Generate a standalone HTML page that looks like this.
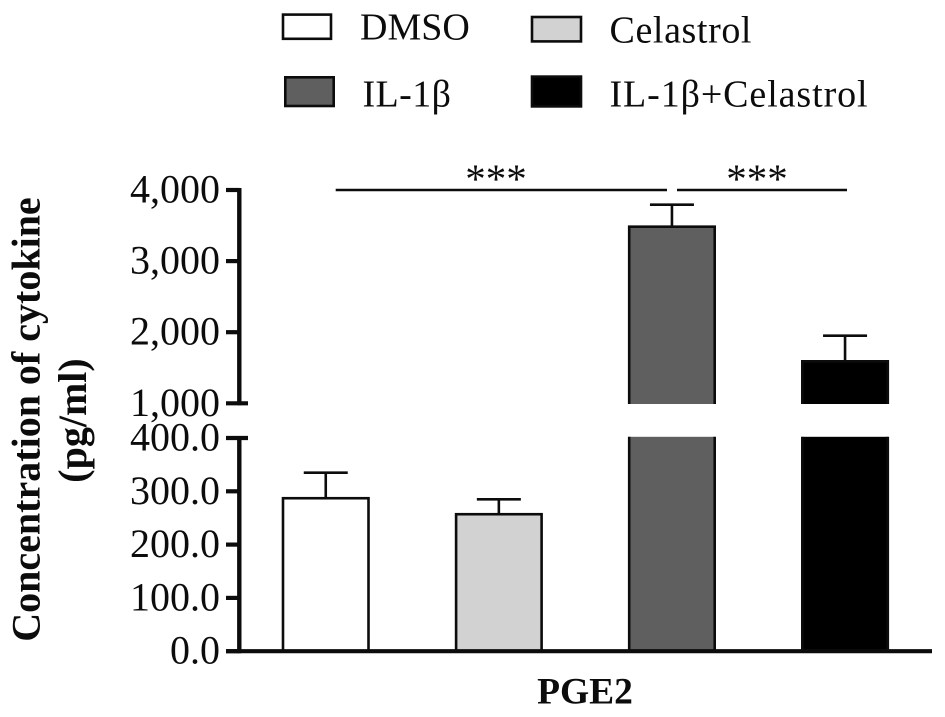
<!DOCTYPE html>
<html>
<head>
<meta charset="utf-8">
<style>
html,body{margin:0;padding:0;background:#fff;}
svg{display:block;}
text{font-family:"Liberation Serif","DejaVu Serif",serif;fill:#0c0c0c;}
</style>
</head>
<body>
<svg id="chart" width="945" height="717" viewBox="0 0 945 717" xmlns="http://www.w3.org/2000/svg">
<g id="legend"></g>
<g id="bars"></g>
<g id="axes"></g>
<g id="sig"></g>
<text transform="translate(39.5,419.5) rotate(-90)" text-anchor="middle" font-size="40" font-weight="bold">Concentration of cytokine</text>
<text transform="translate(86,420.5) rotate(-90)" text-anchor="middle" font-size="40" font-weight="bold">(pg/ml)</text>
<text x="585" y="703.5" text-anchor="middle" font-size="37.5" font-weight="bold">PGE2</text>
</svg>
<script>
const categories = ['DMSO', 'Celastrol', 'IL-1β', 'IL-1β+Celastrol'];
const means = [287, 257, 3484, 1590];
const errorTops = [335, 285, 3793, 1951];
const fills = ['#ffffff', '#d2d2d2', '#5f5f5f', '#000000'];
const lowerTicks = [0, 100, 200, 300, 400];
const upperTicks = [1000, 2000, 3000, 4000];
const lowerLabels = ['0.0', '100.0', '200.0', '300.0', '400.0'];
const upperLabels = ['1,000', '2,000', '3,000', '4,000'];

const NS = 'http://www.w3.org/2000/svg';
const axisX = 239.3;
const tickLeft = 226;
const breakTickRight = 248;
const ink = '#0c0c0c';
function make(tag, attrs, parent, text) {
  const el = document.createElementNS(NS, tag);
  for (const k in attrs) el.setAttribute(k, attrs[k]);
  if (text !== undefined) el.textContent = text;
  parent.appendChild(el);
  return el;
}
function yLower(v) { return 651.2 - (v / 400) * 213.2; }
function yUpper(v) { return 403.3 - ((v - 1000) / 3000) * 213.3; }
function yVal(v) { return v <= 400 ? yLower(v) : yUpper(Math.max(v, 1000)); }
function barX(i) { return 283 + i * 173.1; }
const barW = 85.5;

const barsG = document.getElementById('bars');
categories.forEach(function (c, i) {
  const x = barX(i), cx = x + barW / 2;
  const top = yVal(means[i]);
  const errTop = yVal(errorTops[i]);
  const errLine = make('line', { x1: cx, x2: cx, y1: top, y2: errTop, stroke: ink, 'stroke-width': 2.6 }, barsG);
  
  
  const cap = make('line', { x1: cx - 22, x2: cx + 22, y1: errTop, y2: errTop, stroke: ink, 'stroke-width': 2.6 }, barsG);
  
  
  if (means[i] <= 400) {
    const r = make('rect', { x: x, y: top, width: barW, height: yLower(0) - top, fill: fills[i], stroke: ink, 'stroke-width': 2.6 }, barsG);
    
    
  } else {
    const upperEnd = yUpper(1000) + 0.7;
    const lowerStart = yLower(400) - 1.2;
    const r1 = make('rect', { x: x, y: top, width: barW, height: upperEnd - top, fill: fills[i] }, barsG);
    
    
    const o = make('path', { d: 'M' + x + ' ' + upperEnd + 'V' + top + 'H' + (x + barW) + 'V' + upperEnd, fill: 'none', stroke: ink, 'stroke-width': 2.6 }, barsG);
    
    
    const r2 = make('rect', { x: x, y: lowerStart, width: barW, height: yLower(0) - lowerStart, fill: fills[i] }, barsG);
    
    
    const o2 = make('path', { d: 'M' + x + ' ' + lowerStart + 'V' + yLower(0) + 'H' + (x + barW) + 'V' + lowerStart, fill: 'none', stroke: ink, 'stroke-width': 2.6 }, barsG);
    
    
  }
});

const axes = document.getElementById('axes');
const lowerLine = make('line', { x1: axisX, x2: axisX, y1: yLower(400) - 2, y2: yLower(0) + 2, stroke: ink, 'stroke-width': 4.4 }, axes);


const upperLine = make('line', { x1: axisX, x2: axisX, y1: yUpper(4000) - 2, y2: yUpper(1000) + 2, stroke: ink, 'stroke-width': 4.4 }, axes);


const baseLine = make('line', { x1: tickLeft, x2: 932, y1: yLower(0), y2: yLower(0), stroke: ink, 'stroke-width': 4.2 }, axes);



lowerTicks.forEach(function (v, i) {
  const y = yLower(v);
  const isBreak = i === lowerTicks.length - 1;
  const t = make('line', { x1: tickLeft, x2: isBreak ? breakTickRight : axisX, y1: y, y2: y, stroke: ink, 'stroke-width': 4.2 }, axes);
  
  
  const l = make('text', { x: 220, y: y + 12.5, 'text-anchor': 'end', 'font-size': 40 }, axes, lowerLabels[i]);
  
  
});
upperTicks.forEach(function (v, i) {
  const y = yUpper(v);
  const isBreak = i === 0;
  const t = make('line', { x1: tickLeft, x2: isBreak ? breakTickRight : axisX, y1: y, y2: y, stroke: ink, 'stroke-width': 4.2 }, axes);
  
  
  const l = make('text', { x: 220, y: y + 12.5, 'text-anchor': 'end', 'font-size': 40 }, axes, upperLabels[i]);
  
  
});

const sig = document.getElementById('sig');
const s1 = make('line', { x1: 335.7, x2: 667, y1: 190, y2: 190, stroke: ink, 'stroke-width': 2.5 }, sig);


const s2 = make('line', { x1: 677, x2: 847, y1: 190, y2: 190, stroke: ink, 'stroke-width': 2.5 }, sig);


const st1 = make('text', { x: 496, y: 192.5, 'text-anchor': 'middle', 'font-size': 41 }, sig, '***');


const st2 = make('text', { x: 757, y: 192.5, 'text-anchor': 'middle', 'font-size': 41 }, sig, '***');



const legend = document.getElementById('legend');
const legendBoxes = [[283, 14.6, 48, 24.2], [532, 17, 49, 24.4], [285.3, 77.3, 48.4, 28.7], [532, 76.6, 49, 29.8]];
const legendTextX = [360, 609.5, 362.5, 609.5];
const legendTextY = [39.3, 42.3, 106.7, 106.7];
const legendSpacing = [0, 0.6, 0.4, 0.9];
categories.forEach(function (c, i) {
  const box = legendBoxes[i];
  const b = make('rect', { x: box[0], y: box[1], width: box[2], height: box[3], fill: fills[i], stroke: ink, 'stroke-width': 2.6 }, legend);
  
  
  const t = make('text', { x: legendTextX[i], y: legendTextY[i], 'font-size': 38, 'letter-spacing': legendSpacing[i] }, legend, c);
  
  
});
</script>
</body>
</html>
